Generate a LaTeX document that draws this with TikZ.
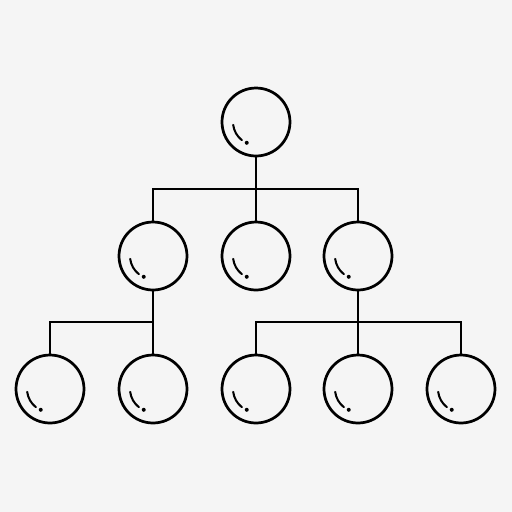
\documentclass[tikz,border=0pt]{standalone}
\definecolor{bg}{HTML}{F5F5F5}
\tikzset{
  ball/.style={circle, draw=black, line width=1.55pt, minimum size=1.36cm, inner sep=0pt},
  wire/.style={line width=1.55pt, black},
  shine/.style={line width=1.15pt, line cap=round}
}
\newcommand{\shineon}[1]{%
  \draw[shine] ($(#1)+(187:0.46cm)$) arc[start angle=187, end angle=232, radius=0.46cm];
  \fill ($(#1)+(246:0.455cm)$) circle[radius=0.04cm];
}
\usetikzlibrary{calc}
\begin{document}
\begin{tikzpicture}[x=0.02cm, y=-0.02cm]
\fill[bg] (0,0) rectangle (512,512);
\useasboundingbox (0,0) rectangle (512,512);
\node[ball] (t) at (256,122) {};
\node[ball] (m1) at (153,256) {};
\node[ball] (m2) at (256,256) {};
\node[ball] (m3) at (358,256) {};
\node[ball] (b1) at (50,389) {};
\node[ball] (b2) at (153,389) {};
\node[ball] (b3) at (256,389) {};
\node[ball] (b4) at (358,389) {};
\node[ball] (b5) at (461,389) {};
\coordinate (j1) at (256,189);
\coordinate (j2) at (153,322);
\coordinate (j3) at (358,322);
\draw[wire] (t.south) -- (m2.north);
\draw[wire] (m1.north) |- (j1) -| (m3.north);
\draw[wire] (m1.south) -- (b2.north);
\draw[wire] (b1.north) |- (j2);
\draw[wire] (m3.south) -- (b4.north);
\draw[wire] (b3.north) |- (j3) -| (b5.north);
\foreach \n in {t,m1,m2,m3,b1,b2,b3,b4,b5}{\shineon{\n}}
\end{tikzpicture}
\end{document}
